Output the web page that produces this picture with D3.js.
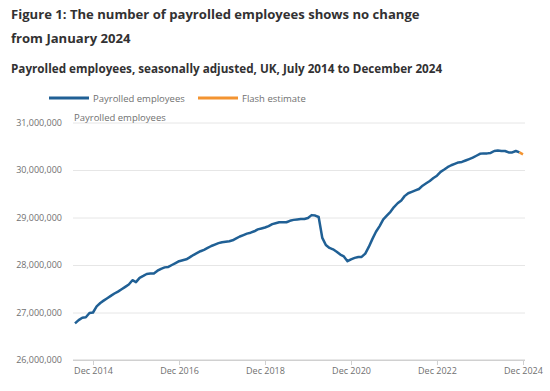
<!DOCTYPE html>
<meta charset="utf-8">
<html>
  <head>
    <title>Payrolled employees</title>
    <script src="https://d3js.org/d3.v7.min.js"></script>
    <style>
      body { margin: 0; background: #fff; font-family: "Open Sans", sans-serif; }
      .title { font-weight: bold; font-size: 13.1px; fill: #323132; }
      .subtitle { font-weight: bold; font-size: 11.7px; fill: #323132; }
      .axis text { font-family: "Open Sans", sans-serif; font-size: 9px; fill: #707070; }
      .legend text { font-size: 9.5px; fill: #707070; }
    </style>
  </head>
  <body>
    <div id="chart"></div>
    <script type="text/javascript">

        // Monthly series, July 2014 to December 2024 (millions of employees)
        var start_month = "2014-07";
        var payrolled = [
            26.77, 26.84, 26.89, 26.90, 26.99, 27.00,                                  // 2014 Jul-Dec
            27.13, 27.20, 27.25, 27.30, 27.35, 27.40, 27.44, 27.49, 27.54, 27.59, 27.68, 27.64, // 2015
            27.73, 27.77, 27.81, 27.82, 27.82, 27.88, 27.92, 27.95, 27.96, 28.00, 28.04, 28.08, // 2016
            28.10, 28.12, 28.16, 28.21, 28.25, 28.29, 28.32, 28.36, 28.40, 28.43, 28.46, 28.48, // 2017
            28.49, 28.50, 28.52, 28.56, 28.60, 28.63, 28.66, 28.68, 28.71, 28.75, 28.77, 28.79, // 2018
            28.82, 28.86, 28.88, 28.90, 28.90, 28.90, 28.93, 28.95, 28.96, 28.97, 28.97, 28.99, // 2019
            29.05, 29.04, 29.01, 28.57, 28.42, 28.36, 28.33, 28.28, 28.22, 28.18, 28.08, 28.12, // 2020
            28.15, 28.17, 28.17, 28.24, 28.38, 28.55, 28.70, 28.82, 28.96, 29.04, 29.12, 29.22, // 2021
            29.30, 29.36, 29.45, 29.51, 29.54, 29.57, 29.60, 29.67, 29.72, 29.77, 29.83, 29.88, // 2022
            29.96, 30.01, 30.06, 30.10, 30.13, 30.16, 30.17, 30.20, 30.23, 30.26, 30.30, 30.34, // 2023
            30.35, 30.35, 30.36, 30.40, 30.41, 30.40, 30.40, 30.37, 30.37, 30.40, 30.37         // 2024 Jan-Nov
        ];
        // Flash estimate: November 2024 (last actual) to December 2024
        var flash = [30.37, 30.33];

        var y_ticks = [26000000, 27000000, 28000000, 29000000, 30000000, 31000000];
        var x_ticks = ["2014-12", "2016-12", "2018-12", "2020-12", "2022-12", "2024-12"];
        var series_names = ["Payrolled employees", "Flash estimate"];
        var series_colors = ["#206095", "#f39431"];

        var total_width = 550, total_height = 391;
        var plot = {left: 75, right: 523, top: 122.5, bottom: 360};

        var parse_month = d3.timeParse("%Y-%m");
        var t0 = parse_month(start_month);

        var main_data = payrolled.map(function(v, i){
            return {date: d3.timeMonth.offset(t0, i), value: v * 1e6};
        });
        var flash_data = flash.map(function(v, i){
            return {date: d3.timeMonth.offset(t0, payrolled.length - 1 + i), value: v * 1e6};
        });

        var svg = d3.select("#chart").append("svg")
            .attr("width", total_width)
            .attr("height", total_height);

        // Titles
        svg.append("text").attr("class", "title").attr("x", 11).attr("y", 18.5)
            .text("Figure 1: The number of payrolled employees shows no change");
        svg.append("text").attr("class", "title").attr("x", 11).attr("y", 42.7)
            .text("from January 2024");
        svg.append("text").attr("class", "subtitle").attr("x", 11).attr("y", 73.3)
            .text("Payrolled employees, seasonally adjusted, UK, July 2014 to December 2024");

        // Scales
        var x_scale = d3.scaleTime()
            .domain([t0, flash_data[flash_data.length - 1].date])
            .range([plot.left, plot.right]);
        var y_scale = d3.scaleLinear()
            .domain([26000000, 31000000])
            .range([plot.bottom, plot.top]);

        // Gridlines + y axis labels
        var y_axis = d3.axisLeft(y_scale)
            .tickValues(y_ticks)
            .tickFormat(d3.format(","))
            .tickSize(-(plot.right - plot.left + 4))
            .tickPadding(11);
        var gy = svg.append("g").attr("class", "axis")
            .attr("transform", "translate(" + (plot.left - 2) + ",0)")
            .call(y_axis);
        gy.select(".domain").remove();
        gy.selectAll("line").attr("stroke", "#e6e6e6");
        gy.selectAll("line").filter(function(d){ return d == 26000000; }).attr("stroke", "#d0d0d0");

        // X axis
        var x_axis = d3.axisBottom(x_scale)
            .tickValues(x_ticks.map(parse_month))
            .tickFormat(d3.timeFormat("Dec %Y"))
            .tickSizeOuter(0)
            .tickSize(5)
            .tickPadding(3);
        var gx = svg.append("g").attr("class", "axis")
            .attr("transform", "translate(0," + plot.bottom + ")")
            .call(x_axis);
        gx.select(".domain").attr("d", "M" + (plot.left - 2) + ",0H" + (plot.right + 2)).attr("stroke", "#d0d0d0");
        gx.selectAll("line").attr("stroke", "#d0d0d0");

        // Axis title
        svg.append("text").attr("class", "axis")
            .attr("x", plot.left - 1).attr("y", 121)
            .style("font-size", "9.5px").style("fill", "#707070")
            .text("Payrolled employees");

        // Lines
        var line = d3.line()
            .x(function(d){ return x_scale(d.date); })
            .y(function(d){ return y_scale(d.value); });

        svg.append("path")
            .datum(main_data)
            .attr("d", line)
            .attr("fill", "none")
            .attr("stroke", series_colors[0])
            .attr("stroke-width", 2.5)
            .attr("stroke-linejoin", "round");

        svg.append("path")
            .datum(flash_data)
            .attr("d", line)
            .attr("fill", "none")
            .attr("stroke", series_colors[1])
            .attr("stroke-width", 2.5);

        // Legend
        var legend_x = [49, 198];
        var legend = svg.append("g").attr("class", "legend")
            .selectAll("g")
            .data(series_names)
            .enter().append("g")
            .attr("transform", function(d, i){ return "translate(" + legend_x[i] + ",98)"; });
        legend.append("line")
            .attr("x1", 0).attr("x2", 40)
            .attr("stroke", function(d, i){ return series_colors[i]; })
            .attr("stroke-width", 3);
        legend.append("text")
            .attr("x", 44).attr("y", 3.5)
            .text(function(d){ return d; });

    </script>
  </body>
</html>
